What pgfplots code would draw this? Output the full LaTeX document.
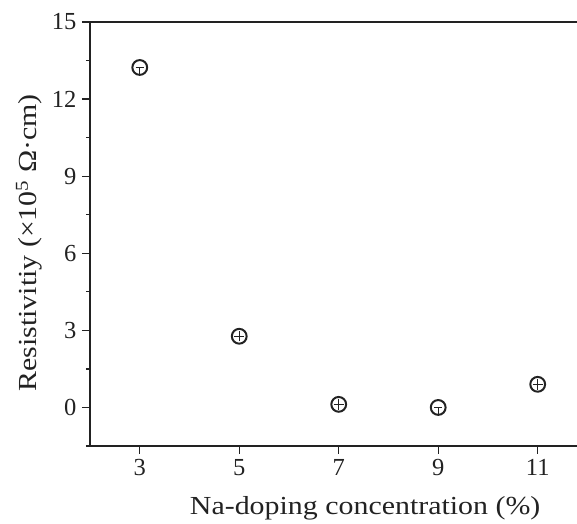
\documentclass[border=0pt]{standalone}
\usepackage{fontspec}
\setmainfont{Liberation Serif}
\newfontfamily\labelfont[FakeStretch=1.15]{Liberation Serif}
\usepackage{pgfplots}
\pgfplotsset{compat=1.18}
\usetikzlibrary{calc}

\definecolor{ink}{HTML}{222222}

% circle with a short horizontal bar and a lower stem
\pgfdeclareplotmark{otee}{%
  \pgfsetlinewidth{2pt}%
  \pgfpathcircle{\pgfpointorigin}{\pgfplotmarksize}%
  \pgfusepathqstroke
  \pgfsetlinewidth{1.1pt}%
  \pgfpathmoveto{\pgfpoint{-0.55\pgfplotmarksize}{0pt}}%
  \pgfpathlineto{\pgfpoint{0.55\pgfplotmarksize}{0pt}}%
  \pgfpathmoveto{\pgfpointorigin}%
  \pgfpathlineto{\pgfpoint{0pt}{-\pgfplotmarksize}}%
  \pgfusepathqstroke
}
% circle with a plus inside
\pgfdeclareplotmark{oplusx}{%
  \pgfsetlinewidth{2pt}%
  \pgfpathcircle{\pgfpointorigin}{\pgfplotmarksize}%
  \pgfusepathqstroke
  \pgfsetlinewidth{1.1pt}%
  \pgfpathmoveto{\pgfpoint{-0.7\pgfplotmarksize}{0pt}}%
  \pgfpathlineto{\pgfpoint{0.7\pgfplotmarksize}{0pt}}%
  \pgfpathmoveto{\pgfpoint{0pt}{-0.7\pgfplotmarksize}}%
  \pgfpathlineto{\pgfpoint{0pt}{0.7\pgfplotmarksize}}%
  \pgfusepathqstroke
}

\begin{document}
\begin{tikzpicture}
\begin{axis}[
    scale only axis,
    width=487pt, height=424pt,
    xmin=2, xmax=11.79,
    ymin=-1.5, ymax=15,
    axis x line*=box,
    axis y line*=left,
    xtick={3,5,7,9,11},
    ytick={0,3,6,9,12,15},
    minor ytick={-1.5,1.5,4.5,7.5,10.5,13.5},
    xtick pos=bottom, ytick pos=left,
    tick align=outside,
    major tick length=8pt,
    minor tick length=4pt,
    axis line style={ink, line width=1.2pt},
    every tick/.style={ink, line width=1.2pt},
    /pgf/number format/assume math mode=true,
    tick label style={font=\fontsize{24.5}{29}\selectfont, text=ink},
    yticklabel style={xshift=-2pt},
    xticklabel style={yshift=-2pt},
    label style={font=\labelfont\fontsize{26}{30}\selectfont, text=ink},
    xlabel={Na-doping concentration (\%)},
    ylabel={Resistivitiy (×10\textsuperscript{5} Ω·cm)},
    xlabel style={at={(axis description cs:0.565,-0.148)}, anchor=center},
    ylabel style={at={(axis description cs:-0.125,0.479)}, anchor=center},
    clip=false,
]
\addplot[only marks, draw=ink, mark=otee, mark size=7.4pt] coordinates {(3,13.23) (9,0.0)};
\addplot[only marks, draw=ink, mark=oplusx, mark size=7.4pt] coordinates {(5,2.77) (7,0.12) (11,0.9)};
\coordinate (bl) at (rel axis cs:0,0);
\coordinate (tr) at (rel axis cs:1,1);
\end{axis}
\pgfresetboundingbox
\path[use as bounding box] ($(bl)+(-90pt,-78pt)$) rectangle ($(tr)+(0pt,22pt)$);
\end{tikzpicture}
\end{document}
